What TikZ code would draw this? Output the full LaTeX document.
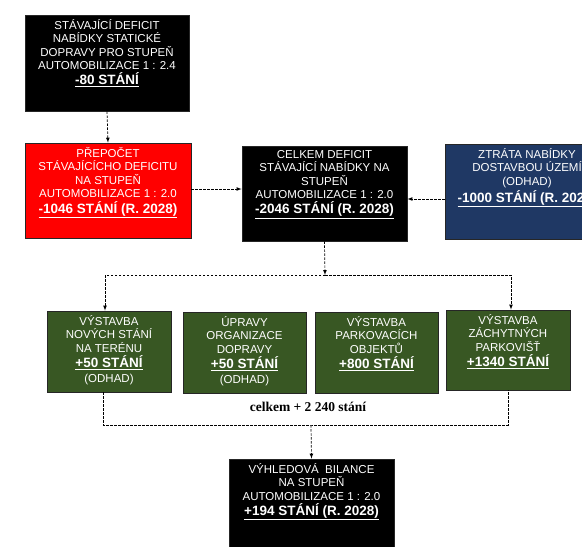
\documentclass[tikz,border=0pt]{standalone}
\usepackage{fontspec}
\setmainfont{Liberation Sans}
\newfontfamily\timesfont{Liberation Serif}
\usetikzlibrary{positioning}

\definecolor{boxred}{RGB}{255,0,0}
\definecolor{boxblue}{RGB}{31,56,100}
\definecolor{boxgreen}{RGB}{56,87,35}

\newcommand{\stani}[1]{{\fontsize{13.5}{13.5}\selectfont\bfseries\underline{#1}}}

\tikzset{
  box/.style={draw=black!85, line width=0.8pt, fill=black, inner sep=0pt},
  bigbox/.style={box, minimum width=165pt, minimum height=95pt},
  greenbox/.style={box, fill=boxgreen, minimum width=124pt, minimum height=81pt},
  txt/.style={align=center, inner sep=0pt, text=white, font=\fontsize{11.5}{13.5}\selectfont,
    execute at begin node={\rule{0pt}{11pt}}},
  dline/.style={line width=0.7pt, dash pattern=on 2.5pt off 1.5pt}
}

\begin{document}
\begin{tikzpicture}[x=1pt, y=-1pt, >=latex]

\useasboundingbox (0,0) rectangle (582,547);
\clip (0,0) rectangle (582,547);

% upper boxes
\node[bigbox, minimum width=164pt, minimum height=96pt] (stav) at (107,63) {};
\node[txt, below=4.5pt of stav.north] (stav-t) {STÁVAJÍCÍ DEFICIT\\NABÍDKY STATICKÉ\\DOPRAVY PRO STUPEŇ\\AUTOMOBILIZACE 1 : 2.4\\[1.5pt]\stani{-80 STÁNÍ}};

\node[bigbox, fill=boxred, minimum width=166pt] (prep) at (108,190.5) {};
\node[txt, below=4.5pt of prep.north] (prep-t) {PŘEPOČET\\STÁVAJÍCÍCHO DEFICITU\\NA STUPEŇ\\AUTOMOBILIZACE 1 : 2.0\\[2pt]\stani{-1046 STÁNÍ (R. 2028)}};

\node[bigbox] (celk) at (324.5,193.5) {};
\node[txt, below=4.5pt of celk.north] (celk-t) {CELKEM DEFICIT\\STÁVAJÍCÍ NABÍDKY NA\\STUPEŇ\\AUTOMOBILIZACE 1 : 2.0\\[1.5pt]\stani{-2046 STÁNÍ (R. 2028)}};

\node[bigbox, fill=boxblue, minimum width=164pt] (ztra) at (527,191.5) {};
\node[txt, below=4.5pt of ztra.north] (ztra-t) {ZTRÁTA NABÍDKY\\DOSTAVBOU ÚZEMÍ\\(ODHAD)\\[1.5pt]\stani{-1000 STÁNÍ (R. 2028)}};

% measures
\node[greenbox] (teren) at (109,351.5) {};
\node[txt, below=4.5pt of teren.north] (teren-t) {VÝSTAVBA\\NOVÝCH STÁNÍ\\NA TERÉNU\\[1.5pt]\stani{+50 STÁNÍ}\\[1.5pt](ODHAD)};

\node[greenbox, minimum width=123pt] (orga) at (244.5,352.5) {};
\node[txt, below=4.5pt of orga.north] (orga-t) {ÚPRAVY\\ORGANIZACE\\DOPRAVY\\[1.5pt]\stani{+50 STÁNÍ}\\[1.5pt](ODHAD)};

\node[greenbox, minimum width=123pt] (objekt) at (376.5,352.5) {};
\node[txt, below=4.5pt of objekt.north] (objekt-t) {VÝSTAVBA\\PARKOVACÍCH\\OBJEKTŮ\\[1.5pt]\stani{+800 STÁNÍ}};

\node[greenbox, minimum height=80pt] (zach) at (508,350) {};
\node[txt, below=4.5pt of zach.north] (zach-t) {VÝSTAVBA\\ZÁCHYTNÝCH\\PARKOVIŠŤ\\[1.5pt]\stani{+1340 STÁNÍ}};

\node[font=\timesfont\bfseries\fontsize{13.5}{14}\selectfont] (suma) at (308,407) {celkem + 2 240 stání};

% result
\node[bigbox] (vysl) at (311.5,506.5) {};
\node[txt, below=4.5pt of vysl.north] (vysl-t) {VÝHLEDOVÁ\ \ BILANCE\\NA STUPEŇ\\AUTOMOBILIZACE 1 : 2.0\\[1.5pt]\stani{+194 STÁNÍ (R. 2028)}};

% connectors
\coordinate (split) at (325,275);
\coordinate (merge) at (311,425);

\draw[dline, ->] (stav.south) -- (prep.north);
\draw[dline, ->] ([yshift=1.5pt]prep.east) -- ([yshift=1.5pt]prep.east -| celk.west);
\draw[dline, ->] ([yshift=-7.5pt]ztra.west) -- ([yshift=-7.5pt]ztra.west -| celk.east);
\draw[dline, ->] (celk.south) -- (split);
\draw[dline, ->] (split) -| ([xshift=-4pt]teren.north);
\draw[dline, ->] (split) -| ([xshift=3pt]zach.north);
\draw[dline] ([xshift=-6pt]teren.south) |- (merge) -| (zach.south);
\draw[dline, ->] (merge) -- (vysl.north);

\end{tikzpicture}
\end{document}
